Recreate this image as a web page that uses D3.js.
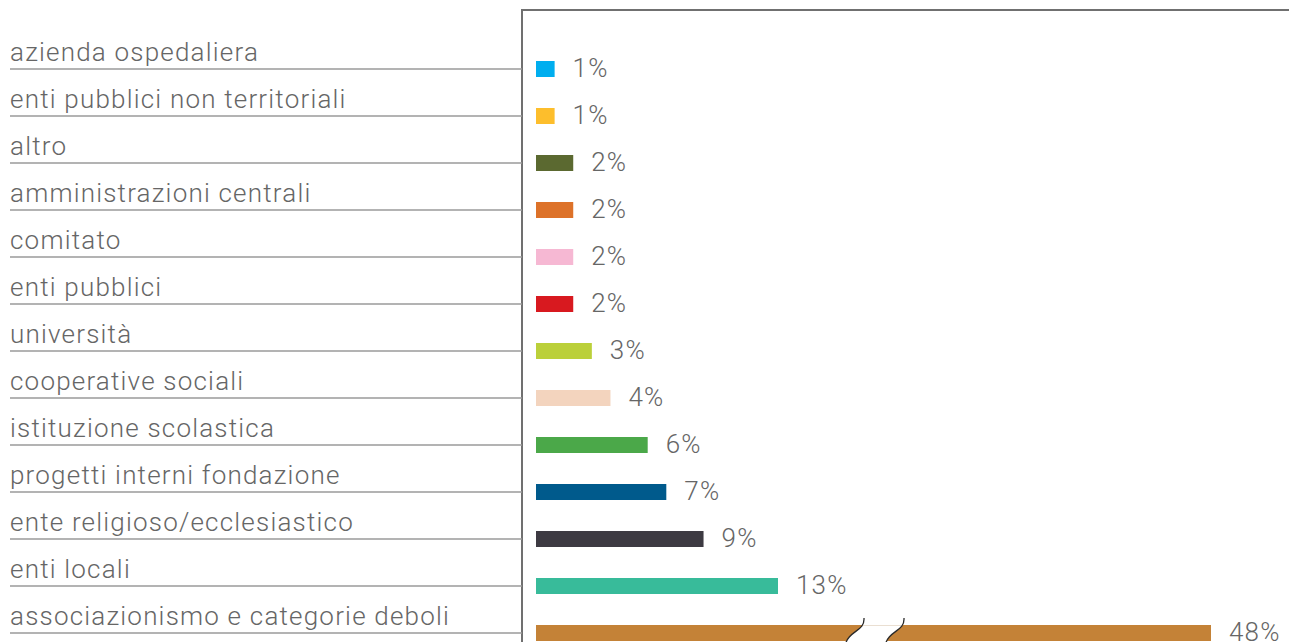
<!DOCTYPE html>
<html>
<head>
<meta charset="utf-8">
<script src="https://cdn.jsdelivr.net/npm/d3@7"></script>
<style>
  html, body { margin: 0; padding: 0; background: #fff; }
  svg { display: block; }
  text { font-family: Roboto, "Liberation Sans", sans-serif; font-weight: 300; fill: #666; letter-spacing: 1.2px; }
</style>
</head>
<body>
<svg id="chart" width="1289" height="642"></svg>
<script>
// Categories, top to bottom
const categories = [
  "azienda ospedaliera",
  "enti pubblici non territoriali",
  "altro",
  "amministrazioni centrali",
  "comitato",
  "enti pubblici",
  "università",
  "cooperative sociali",
  "istituzione scolastica",
  "progetti interni fondazione",
  "ente religioso/ecclesiastico",
  "enti locali",
  "associazionismo e categorie deboli"
];

// Share of each category, in percent
const shares = [1, 1, 2, 2, 2, 2, 3, 4, 6, 7, 9, 13, 48];

// Bar colours, one per category
const barColors = [
  "#00aeef", "#fdbe2c", "#5b6930", "#dd7229", "#f6b8d3", "#d8191f",
  "#bbd03a", "#f3d4be", "#4ba849", "#005a8c", "#3d3a42", "#38bb9a", "#c48237"
];

// Values above this are drawn on the compressed (broken) part of the axis
const breakValue = 13;

const svg = d3.select("#chart");
const W = 1289, H = 642;
const axisX = 522, topY = 10;

const data = categories.map((c, i) => ({ cat: c, value: shares[i], color: barColors[i] }));

const y = d3.scalePoint().domain(categories).range([69, 633]);

// Piecewise scale: linear up to the break, compressed beyond it
const x = d3.scaleLinear()
  .domain([0, breakValue, 48])
  .range([536, 778, 1211]);

const barH = 16;

// Frame: vertical axis and top rule
svg.append("line")
  .attr("x1", axisX).attr("x2", W)
  .attr("y1", topY).attr("y2", topY)
  .attr("stroke", "#707070").attr("stroke-width", 2);
svg.append("line")
  .attr("x1", axisX).attr("x2", axisX)
  .attr("y1", topY - 1).attr("y2", H)
  .attr("stroke", "#707070").attr("stroke-width", 2);

// Category labels with their underline rules
const rows = svg.append("g").selectAll("g").data(data).join("g");
rows.append("line")
  .attr("x1", 10).attr("x2", axisX)
  .attr("y1", d => y(d.cat)).attr("y2", d => y(d.cat))
  .attr("stroke", "#9a9a9a").attr("stroke-width", 1.5);
rows.append("text")
  .attr("x", 10)
  .attr("y", d => y(d.cat) - 8)
  .attr("font-size", 26)
  .text(d => d.cat);

// Bars
svg.append("g").selectAll("rect").data(data).join("rect")
  .attr("x", x(0))
  .attr("y", d => y(d.cat) - barH / 2)
  .attr("width", d => x(d.value) - x(0))
  .attr("height", barH)
  .attr("fill", d => d.color);

// Value labels
svg.append("g").selectAll("text").data(data).join("text")
  .attr("x", d => x(d.value) + 18)
  .attr("y", d => y(d.cat) + 8)
  .attr("font-size", 26)
  .text(d => d3.format("d")(d.value) + "%");

// Break marks on bars that pass the break
const brk = data.filter(d => d.value > breakValue);
const bx = 845, gap = 40;
const edge = (x0, t) =>
  `M${x0 + 19},${t} C${x0 + 20},${t + 14} ${x0 + 3},${t + 12} ${x0},${t + 28}`;
brk.forEach(d => {
  const yc = y(d.cat);
  const t = yc - 15;
  // white gap between the two wavy edges
  svg.append("path")
    .attr("d", `M${bx + 19},${t} C${bx + 20},${t + 14} ${bx + 3},${t + 12} ${bx},${t + 28}
                L${bx + gap},${t + 28} C${bx + gap + 3},${t + 12} ${bx + gap + 20},${t + 14} ${bx + gap + 19},${t} Z`)
    .attr("fill", "#fff");
  svg.append("line")
    .attr("x1", bx + 17).attr("x2", bx + gap + 17)
    .attr("y1", yc - barH / 2 + 0.5).attr("y2", yc - barH / 2 + 0.5)
    .attr("stroke", "#eadfd2").attr("stroke-width", 1);
  [bx, bx + gap].forEach(x0 => {
    svg.append("path")
      .attr("d", edge(x0, t))
      .attr("fill", "none")
      .attr("stroke", "#2a2a2a")
      .attr("stroke-width", 1.3);
  });
});
</script>
</body>
</html>
